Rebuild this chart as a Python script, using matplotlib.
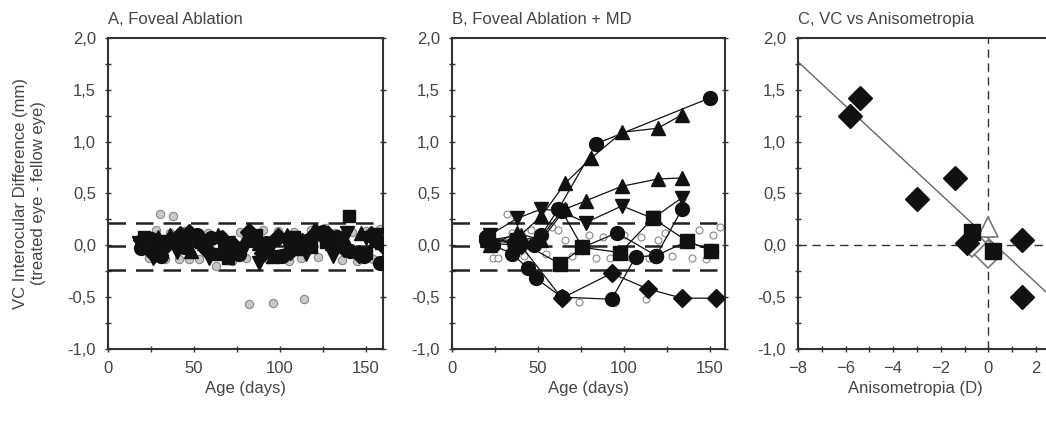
import matplotlib.pyplot as plt
import numpy as np
from matplotlib.ticker import MultipleLocator, FixedLocator, FuncFormatter

plt.rcParams['font.family'] = ['Liberation Sans', 'DejaVu Sans']
plt.rcParams['font.size'] = 12

# ---- Panel A: foveal ablation (black = individual animals, gray = controls)
A_dia_x = [20, 27, 35, 42, 47, 58, 66, 74, 82, 90, 99, 106, 113, 121, 128, 137, 146, 153, 160]
A_dia_y = [0.05, -0.08, 0.02, 0.10, 0.12, -0.05, 0.06, -0.02, 0.13, -0.07, 0.08, -0.05, 0.03, 0.12, 0.10, -0.03, -0.08, 0.10, 0.00]
A_cir_x = [19, 25, 31, 38, 44, 52, 60, 68, 76, 84, 92, 101, 109, 117, 125, 133, 141, 149, 158]
A_cir_y = [-0.03, 0.06, -0.10, 0.04, -0.02, 0.10, 0.07, 0.00, -0.08, 0.05, 0.02, -0.10, 0.00, 0.05, 0.13, 0.08, -0.05, -0.10, -0.17]
A_tri_x = [22, 29, 36, 48, 56, 64, 72, 80, 88, 96, 104, 112, 120, 130, 138, 147, 155]
A_tri_y = [0.00, 0.08, 0.10, -0.05, 0.02, 0.10, -0.05, 0.08, 0.02, -0.10, 0.10, -0.03, 0.15, 0.02, 0.05, 0.12, 0.05]
A_inv_x = [18, 26, 33, 40, 50, 59, 70, 79, 88, 95, 103, 115, 123, 131, 139, 150, 157]
A_inv_y = [0.02, -0.12, 0.03, -0.06, 0.05, -0.12, 0.02, -0.04, -0.17, -0.02, 0.05, -0.08, 0.10, -0.10, 0.12, 0.07, 0.10]
A_sq_x = [21, 30, 45, 54, 62, 70, 86, 97, 108, 118, 127, 140, 150, 159]
A_sq_y = [0.08, -0.04, 0.05, 0.03, -0.08, -0.12, 0.10, -0.10, 0.08, -0.02, 0.03, 0.28, -0.07, 0.02]
A_ctl_x = [24, 28, 30, 33, 36, 38, 41, 44, 47, 53, 58, 63, 66, 72, 77, 80, 82, 85, 90, 93, 96, 99,
           105, 108, 112, 114, 118, 122, 126, 132, 136, 142, 145, 150, 154, 158]
A_ctl_y = [-0.12, 0.15, 0.30, -0.13, 0.12, 0.28, -0.13, 0.14, -0.13, -0.13, 0.12, -0.20, 0.10, -0.15, 0.13, -0.12,
           -0.57, 0.12, 0.15, -0.13, -0.56, 0.14, -0.15, 0.13, -0.12, -0.52, 0.15, -0.11, 0.17, 0.12, -0.14,
           0.13, -0.15, 0.14, -0.13, 0.16]

# ---- Panel B: foveal ablation + monocular deprivation
B1_x = [20, 36, 52, 62, 84, 150]
B1_y = [0.08, 0.02, 0.10, 0.35, 0.98, 1.42]
B2_x = [22, 40, 52, 66, 81, 99, 120, 134]
B2_y = [0.05, 0.10, 0.28, 0.60, 0.84, 1.09, 1.13, 1.26]
B3_x = [22, 38, 52, 66, 78, 99, 120, 134]
B3_y = [0.00, 0.12, 0.05, 0.35, 0.43, 0.57, 0.64, 0.65]
B4_x = [22, 38, 52, 63, 78, 99, 117, 134]
B4_y = [0.10, 0.26, 0.35, 0.33, 0.22, 0.38, 0.26, 0.46]
B5_x = [20, 37, 48, 64, 76, 96, 119, 134]
B5_y = [0.05, 0.02, 0.00, 0.33, -0.02, 0.12, -0.10, 0.35]
B6_x = [22, 40, 64, 93, 114, 134, 154]
B6_y = [0.02, 0.00, -0.51, -0.27, -0.42, -0.51, -0.51]
B7_x = [24, 35, 44, 49, 64, 93, 107, 119, 137, 151]
B7_y = [0.00, -0.08, -0.22, -0.32, -0.50, -0.52, -0.11, -0.10, 0.04, -0.05]
B8_x = [21, 38, 63, 76, 98, 117, 137, 151]
B8_y = [0.05, 0.05, -0.18, -0.02, -0.07, 0.26, 0.04, -0.05]
B_ctl_x = [24, 27, 32, 35, 42, 46, 55, 58, 62, 66, 70, 74, 80, 84, 88, 92, 95, 100, 104, 110, 113,
           115, 120, 124, 128, 140, 144, 148, 152, 156]
B_ctl_y = [-0.12, -0.12, 0.30, 0.12, -0.10, 0.15, -0.08, 0.18, 0.15, 0.05, -0.10, -0.55, 0.10, -0.12, 0.08,
           -0.12, -0.55, 0.10, -0.12, 0.08, -0.52, -0.12, 0.05, 0.12, -0.10, -0.12, 0.15, -0.13, 0.10, 0.18]

# ---- Panel C: VC vs anisometropia
C_dia_x = [-5.8, -5.4, -3.0, -1.4, -0.9, 1.4, 1.4]
C_dia_y = [1.25, 1.42, 0.45, 0.65, 0.02, 0.05, -0.50]
C_sq_x = [-0.7, 0.2]
C_sq_y = [0.13, -0.05]
C_open_x = [0.0, 0.0, -0.7]
C_open_y = [0.18, -0.08, 0.02]
C_open_m = ['^', 'D', 'D']
C_ticks = [-8, -6, -4, -2, 0, 2]
fit_x = [-8.0, 4.0]
fit_slope, fit_icpt = -0.213, 0.066
band = [0.22, -0.01, -0.24]

comma = FuncFormatter(lambda v, p: ('%.1f' % v).replace('.', ','))
txt = '#444444'

fig = plt.figure(figsize=(10.46, 4.26), dpi=100)
axA = fig.add_axes([0.1033, 0.1808, 0.263, 0.730])
axB = fig.add_axes([0.4321, 0.1808, 0.261, 0.730])
axC = fig.add_axes([0.7629, 0.1808, 0.273, 0.730])


def style(ax, xmaj, xmin):
    ax.set_ylim(-1.0, 2.0)
    ax.yaxis.set_major_locator(MultipleLocator(0.5))
    ax.yaxis.set_minor_locator(MultipleLocator(0.25))
    ax.yaxis.set_major_formatter(comma)
    ax.xaxis.set_major_locator(xmaj)
    ax.xaxis.set_minor_locator(MultipleLocator(xmin))
    ax.tick_params(which='both', direction='inout', colors='#333333', labelcolor=txt,
                   labelsize=12, width=1)
    ax.tick_params(which='major', length=5, pad=6)
    ax.tick_params(which='minor', length=4)
    for s in ax.spines.values():
        s.set_color('#333333')
        s.set_linewidth(1.5)


def markers(ax, x, y, m, ms, line=False):
    ax.plot(x, y, marker=m, ms=ms, color='#111111', mfc='#111111', mec='#111111',
            lw=0.9 if line else 0, ls='-' if line else 'none', zorder=3)


# panel A
style(axA, MultipleLocator(50), 25)
axA.set_xlim(0, 160)
axA.tick_params(axis='y', right=True)
for yv in band:
    axA.axhline(yv, color='#222222', lw=1.8, dashes=(7, 4), zorder=2)
axA.plot(A_ctl_x, A_ctl_y, 'o', ms=6, mfc='#c8c8c8', mec='#888888', mew=0.8, zorder=2)
markers(axA, A_dia_x, A_dia_y, 'D', 9)
markers(axA, A_cir_x, A_cir_y, 'o', 10)
markers(axA, A_tri_x, A_tri_y, '^', 10)
markers(axA, A_inv_x, A_inv_y, 'v', 10)
markers(axA, A_sq_x, A_sq_y, 's', 9)
axA.set_xlabel('Age (days)', color=txt, labelpad=4)
axA.set_ylabel('VC Interocular Difference (mm)\n(treated eye - fellow eye)', color=txt, labelpad=16)
axA.set_title('A, Foveal Ablation', loc='left', color=txt, fontsize=12, pad=10)

# panel B
style(axB, MultipleLocator(50), 25)
axB.set_xlim(0, 159)
axB.tick_params(axis='y', right=True)
for yv in band:
    axB.axhline(yv, color='#222222', lw=1.8, dashes=(7, 4), zorder=2)
axB.plot(B_ctl_x, B_ctl_y, 'o', ms=5, mfc='white', mec='#888888', mew=0.8, zorder=2)
markers(axB, B1_x, B1_y, 'o', 10, True)
markers(axB, B2_x, B2_y, '^', 10, True)
markers(axB, B3_x, B3_y, '^', 10, True)
markers(axB, B4_x, B4_y, 'v', 10, True)
markers(axB, B5_x, B5_y, 'o', 10, True)
markers(axB, B6_x, B6_y, 'D', 9, True)
markers(axB, B7_x, B7_y, 'o', 10, True)
markers(axB, B8_x, B8_y, 's', 10, True)
axB.set_xlabel('Age (days)', color=txt, labelpad=4)
axB.set_title('B, Foveal Ablation + MD', loc='left', color=txt, fontsize=12, pad=10)

# panel C
style(axC, FixedLocator(C_ticks), 1)
axC.set_xlim(-8, 4)
axC.spines['right'].set_visible(False)
axC.axhline(0, color='#333333', lw=1.0, dashes=(6, 4), zorder=1)
axC.axvline(0, color='#333333', lw=1.0, dashes=(6, 4), zorder=1)
fx = np.array(fit_x)
axC.plot(fx, fit_icpt + fit_slope * fx, color='#666666', lw=1.0, zorder=2)
for x, y, m in zip(C_open_x, C_open_y, C_open_m):
    axC.plot(x, y, marker=m, ms=14, mfc='white', mec='#777777', mew=1.2, ls='none', zorder=3)
markers(axC, C_dia_x, C_dia_y, 'D', 12)
markers(axC, C_sq_x, C_sq_y, 's', 12)
axC.set_xlabel('Anisometropia (D)', color=txt, labelpad=4)
axC.xaxis.label.set_x(0.41)
axC.set_title('C, VC vs Anisometropia', loc='left', color=txt, fontsize=12, pad=10)

fig.savefig('out.png', dpi=100)
